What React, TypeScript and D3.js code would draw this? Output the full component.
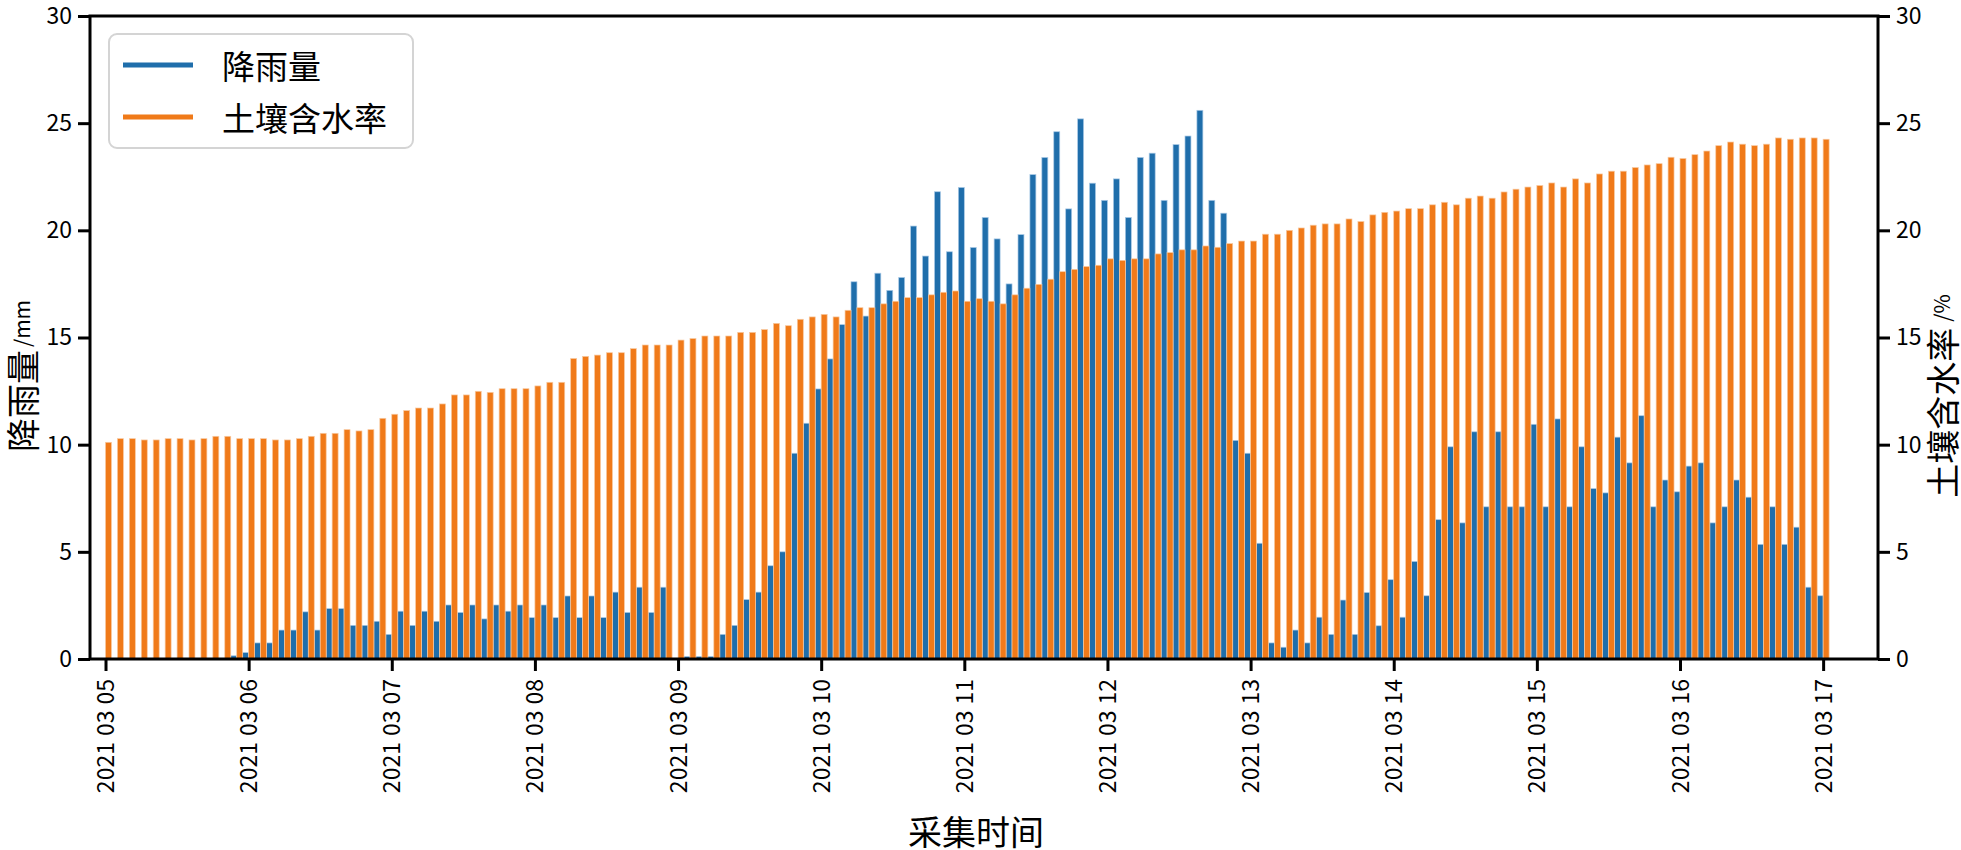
import { useEffect, useRef } from "react";
import * as d3 from "d3";

// one tick per day, 12 samples (2h) per day
const dayLabels = [
  "20210305", "20210306", "20210307", "20210308", "20210309", "20210310", "20210311",
  "20210312", "20210313", "20210314", "20210315", "20210316", "20210317",
];

// 降雨量 (mm), left axis
const rainfall = [
  0, 0, 0, 0, 0, 0, 0, 0, 0, 0, 0, 0.15, 0.3, 0.75, 0.75, 1.35, 1.35, 2.2, 1.35, 2.35,
  2.35, 1.57, 1.57, 1.76, 1.15, 2.23, 1.57, 2.23, 1.76, 2.52, 2.17, 2.52, 1.87, 2.52, 2.23, 2.52,
  1.93, 2.52, 1.93, 2.94, 1.93, 2.94, 1.93, 3.12, 2.17, 3.35, 2.17, 3.35, 0, 0.12, 0.12, 0.12,
  1.15, 1.57, 2.77, 3.12, 4.35, 5.0, 9.6, 11.0, 12.6, 14.0, 15.6, 17.6, 16.0, 18.0, 17.2, 17.8,
  20.2, 18.8, 21.8, 19.0, 22.0, 19.2, 20.6, 19.6, 17.5, 19.8, 22.6, 23.4, 24.6, 21.0, 25.2, 22.2,
  21.4, 22.4, 20.6, 23.4, 23.6, 21.4, 24.0, 24.4, 25.6, 21.4, 20.8, 10.2, 9.6, 5.4, 0.75, 0.55,
  1.35, 0.75, 1.95, 1.15, 2.75, 1.15, 3.1, 1.55, 3.7, 1.95, 4.55, 2.95, 6.5, 9.9, 6.35, 10.6,
  7.1, 10.6, 7.1, 7.1, 10.95, 7.1, 11.2, 7.1, 9.9, 7.95, 7.75, 10.35, 9.15, 11.35, 7.1, 8.35,
  7.8, 9.0, 9.15, 6.35, 7.1, 8.35, 7.55, 5.35, 7.1, 5.35, 6.15, 3.35, 2.95,
];

// 土壤含水率 (%), right axis
const soilMoisture = [
  10.11, 10.28, 10.28, 10.22, 10.22, 10.28, 10.28, 10.22, 10.28, 10.39, 10.39, 10.28, 10.28,
  10.28, 10.22, 10.22, 10.28, 10.39, 10.53, 10.53, 10.7, 10.64, 10.7, 11.23, 11.42, 11.59, 11.71,
  11.71, 11.9, 12.32, 12.32, 12.49, 12.44, 12.61, 12.61, 12.61, 12.74, 12.91, 12.91, 14.02, 14.12,
  14.18, 14.29, 14.29, 14.48, 14.65, 14.65, 14.65, 14.88, 14.95, 15.07, 15.07, 15.07, 15.24, 15.24,
  15.37, 15.66, 15.55, 15.85, 15.96, 16.08, 15.96, 16.27, 16.39, 16.39, 16.57, 16.69, 16.86, 16.86,
  16.99, 17.11, 17.17, 16.69, 16.81, 16.69, 16.57, 16.99, 17.3, 17.48, 17.72, 18.07, 18.18, 18.31,
  18.37, 18.67, 18.6, 18.67, 18.67, 18.9, 18.96, 19.09, 19.09, 19.27, 19.21, 19.38, 19.5, 19.5,
  19.82, 19.82, 20.0, 20.11, 20.24, 20.3, 20.3, 20.53, 20.41, 20.72, 20.84, 20.9, 21.01, 21.01,
  21.19, 21.31, 21.19, 21.5, 21.6, 21.5, 21.79, 21.92, 22.02, 22.09, 22.21, 22.02, 22.4, 22.21,
  22.63, 22.76, 22.76, 22.93, 23.05, 23.11, 23.41, 23.35, 23.53, 23.7, 23.95, 24.12, 24.02, 23.95,
  24.02, 24.31, 24.25, 24.31, 24.31, 24.25,
];

const yTicks = [0, 5, 10, 15, 20, 25, 30];

const BLUE = "#1f6eab";
const ORANGE = "#f07a19";
const FONT = "'Noto Sans CJK SC', 'DejaVu Sans', sans-serif";

export default function App() {
  const svgRef = useRef<SVGSVGElement>(null);

  useEffect(() => {
    document.body.style.margin = "0";
    if (!svgRef.current) return;
    const width = 1961;
    const height = 850;
    const margin = { top: 16, right: 83, bottom: 191, left: 90 };

    const svg = d3.select(svgRef.current);
    svg.selectAll("*").remove();

    const x = d3
      .scaleLinear()
      .domain([-1.3, 148.6])
      .range([margin.left, width - margin.right]);
    const yLeft = d3.scaleLinear().domain([0, 30]).range([height - margin.bottom, margin.top]);
    const yRight = d3.scaleLinear().domain([0, 30]).range([height - margin.bottom, margin.top]);

    const step = x(1) - x(0);
    const w = step / 2;

    // rainfall bars (left of each slot)
    svg
      .append("g")
      .selectAll("rect")
      .data(rainfall)
      .enter()
      .append("rect")
      .attr("x", (_, i) => x(i) - w)
      .attr("y", (d) => yLeft(d))
      .attr("width", w)
      .attr("height", (d) => yLeft(0) - yLeft(d))
      .attr("fill", BLUE)
      .attr("stroke", "#a9c9e6")
      .attr("stroke-width", 0.7);

    // soil moisture bars (right of each slot)
    svg
      .append("g")
      .selectAll("rect")
      .data(soilMoisture)
      .enter()
      .append("rect")
      .attr("x", (_, i) => x(i))
      .attr("y", (d) => yRight(d))
      .attr("width", w)
      .attr("height", (d) => yRight(0) - yRight(d))
      .attr("fill", ORANGE)
      .attr("stroke", "#f8c9a0")
      .attr("stroke-width", 0.7);

    // frame
    svg
      .append("rect")
      .attr("x", margin.left)
      .attr("y", margin.top)
      .attr("width", width - margin.left - margin.right)
      .attr("height", height - margin.top - margin.bottom)
      .attr("fill", "none")
      .attr("stroke", "#000")
      .attr("stroke-width", 3);

    const styleAxis = (g: any) => {
      g.select(".domain").remove();
      g.selectAll(".tick line").attr("stroke", "#000").attr("stroke-width", 3);
      g.selectAll(".tick text")
        .attr("fill", "#000")
        .style("font-family", FONT)
        .style("font-size", "23px");
    };

    svg
      .append("g")
      .attr("transform", `translate(${margin.left},0)`)
      .call(d3.axisLeft(yLeft).tickValues(yTicks).tickSize(12).tickPadding(6))
      .call(styleAxis);

    svg
      .append("g")
      .attr("transform", `translate(${width - margin.right},0)`)
      .call(d3.axisRight(yRight).tickValues(yTicks).tickSize(12).tickPadding(6))
      .call(styleAxis);

    const xAxis = svg
      .append("g")
      .attr("transform", `translate(0,${height - margin.bottom})`)
      .call(
        d3
          .axisBottom(x)
          .tickValues(dayLabels.map((_, k) => k * 12))
          .tickFormat(() => "")
          .tickSize(12)
      )
      .call(styleAxis);

    // date labels, split as year / month / day with small gaps
    xAxis
      .selectAll(".tick text")
      .attr("transform", "rotate(-90)")
      .attr("x", -20)
      .attr("y", 0)
      .attr("dy", "0.35em")
      .style("text-anchor", "end")
      .each(function (_, k) {
        const label = dayLabels[k];
        const t = d3.select(this);
        t.append("tspan").text(label.slice(0, 4));
        t.append("tspan").attr("dx", 6).text(label.slice(4, 6));
        t.append("tspan").attr("dx", 6).text(label.slice(6));
      });

    // axis titles
    const leftTitle = svg
      .append("text")
      .attr("transform", `translate(21,376) rotate(-90)`)
      .attr("text-anchor", "middle")
      .attr("dominant-baseline", "central")
      .style("font-family", FONT);
    leftTitle.append("tspan").style("font-size", "34px").text("降雨量");
    leftTitle.append("tspan").attr("dx", 3).style("font-size", "21px").text("/mm");

    const rightTitle = svg
      .append("text")
      .attr("transform", `translate(1941,396) rotate(-90)`)
      .attr("text-anchor", "middle")
      .attr("dominant-baseline", "central")
      .style("font-family", FONT);
    rightTitle.append("tspan").style("font-size", "34px").text("土壤含水率");
    rightTitle.append("tspan").attr("dx", 6).style("font-size", "21px").text("/%");

    svg
      .append("text")
      .attr("x", 976)
      .attr("y", 830)
      .attr("text-anchor", "middle")
      .attr("dominant-baseline", "central")
      .style("font-family", FONT)
      .style("font-size", "34px")
      .text("采集时间");

    // legend
    const legend = svg.append("g");
    legend
      .append("rect")
      .attr("x", 109)
      .attr("y", 34)
      .attr("width", 304)
      .attr("height", 114)
      .attr("rx", 8)
      .attr("fill", "#fff")
      .attr("fill-opacity", 0.8)
      .attr("stroke", "#d4d4d4")
      .attr("stroke-width", 2);

    const entries = [
      { label: "降雨量", color: BLUE },
      { label: "土壤含水率", color: ORANGE },
    ];
    entries.forEach((e, i) => {
      const cy = 65 + i * 52;
      legend
        .append("line")
        .attr("x1", 123)
        .attr("x2", 193)
        .attr("y1", cy)
        .attr("y2", cy)
        .attr("stroke", e.color)
        .attr("stroke-width", 5);
      legend
        .append("text")
        .attr("x", 222)
        .attr("y", cy)
        .attr("dominant-baseline", "central")
        .style("font-family", FONT)
        .style("font-size", "33px")
        .text(e.label);
    });
  }, []);

  return <svg ref={svgRef} width={1961} height={850} style={{ display: "block", background: "#fff" }} />;
}
